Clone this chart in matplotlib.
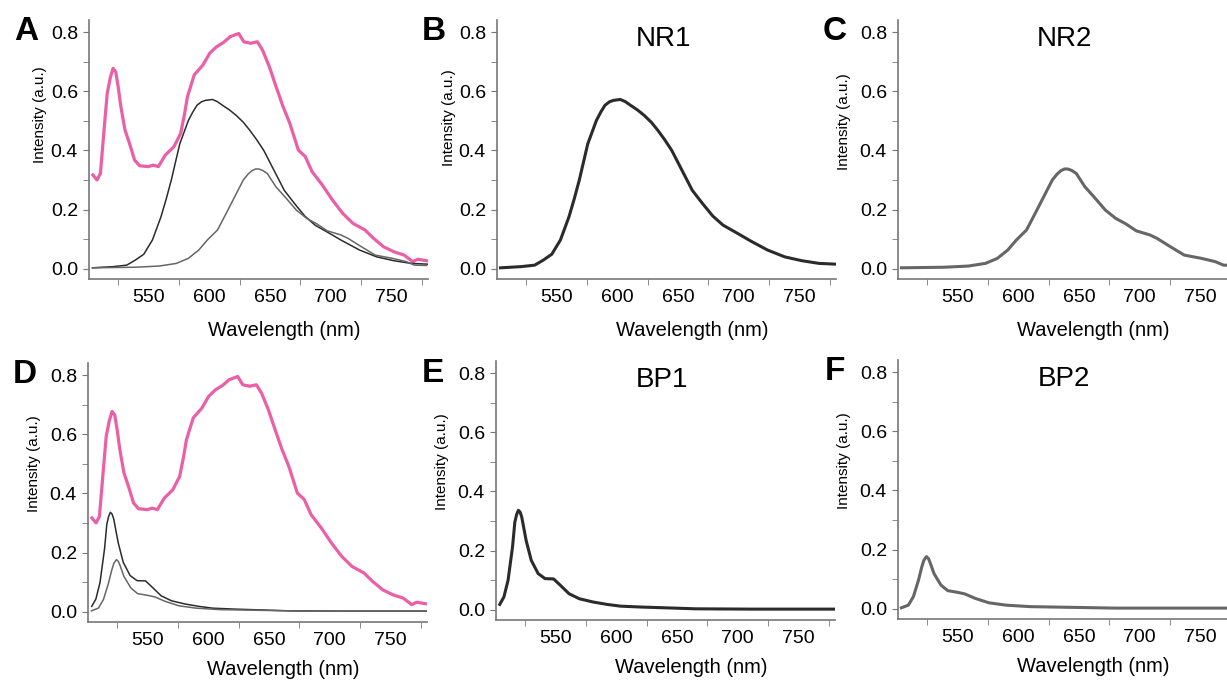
import numpy as np
import matplotlib
matplotlib.use("Agg")
import matplotlib.pyplot as plt

plt.rcParams['font.family'] = ['Liberation Sans', 'DejaVu Sans']

mix_wl = [504.2, 507.6, 510.4, 513.0, 516.0, 518.5, 520.8, 523.0, 525.0, 527.2,
          530.6, 534.3, 538.5, 542.7, 549.7, 553.9, 558.1, 563.8, 570.8, 576.4,
          579.5, 582.0, 587.6, 594.7, 600.3, 605.9, 611.5, 617.1, 624.2, 628.4,
          634.0, 639.6, 643.8, 649.4, 655.0, 660.7, 666.3, 673.3, 679.0, 684.6,
          693.0, 701.4, 709.8, 718.3, 728.1, 735.1, 743.5, 752.0, 760.4, 767.4,
          771.6, 778.7]
mix_int = [0.317, 0.300, 0.322, 0.450, 0.593, 0.645, 0.677, 0.665, 0.615, 0.548,
           0.469, 0.424, 0.367, 0.348, 0.345, 0.350, 0.345, 0.384, 0.412, 0.457,
           0.520, 0.581, 0.655, 0.688, 0.728, 0.750, 0.764, 0.784, 0.795, 0.767,
           0.762, 0.767, 0.739, 0.683, 0.615, 0.548, 0.491, 0.401, 0.379, 0.328,
           0.283, 0.232, 0.187, 0.153, 0.131, 0.103, 0.074, 0.057, 0.046, 0.024,
           0.032, 0.027]

# NR1
nr1_wl = [503.9, 520.8, 532.0, 539.1, 546.1, 553.2, 560.2, 564.5, 568.7, 575.7,
          582.8, 586.5, 589.8, 593.5, 596.9, 602.5, 606.5, 611.0, 616.5, 622.2,
          628.0, 633.5, 639.0, 644.8, 653.2, 661.7, 670.2, 678.6, 687.1, 698.3,
          709.6, 723.7, 737.8, 751.9, 766.0, 781.5]
nr1_int = [0.003, 0.007, 0.012, 0.029, 0.049, 0.097, 0.175, 0.235, 0.299, 0.422,
           0.501, 0.530, 0.552, 0.564, 0.569, 0.572, 0.565, 0.552, 0.537, 0.518,
           0.495, 0.467, 0.436, 0.400, 0.333, 0.265, 0.220, 0.178, 0.147, 0.121,
           0.094, 0.063, 0.040, 0.027, 0.018, 0.015]

# NR2
nr2_wl = [503.8, 539.1, 558.9, 573.0, 582.8, 591.3, 598.4, 606.8, 613.9, 620.9,
          628.0, 632.0, 635.0, 638.0, 640.7, 644.0, 647.7, 654.8, 663.3, 671.7,
          680.2, 688.7, 697.1, 708.4, 714.0, 725.3, 736.6, 750.7, 762.0, 769.0,
          778.9]
nr2_int = [0.003, 0.005, 0.009, 0.018, 0.035, 0.063, 0.097, 0.131, 0.187, 0.243,
           0.300, 0.320, 0.331, 0.337, 0.337, 0.332, 0.322, 0.277, 0.238, 0.198,
           0.170, 0.151, 0.128, 0.114, 0.103, 0.074, 0.046, 0.035, 0.024, 0.012,
           0.011]

# BP1
bp1_wl = [504.1, 507.5, 510.9, 514.6, 516.5, 518.0, 519.4, 520.8, 522.2, 525.8,
          530.0, 535.7, 541.4, 548.4, 554.1, 561.1, 569.6, 580.9, 592.2, 603.4,
          620.4, 643.0, 665.5, 710.7, 782.6]
bp1_int = [0.018, 0.043, 0.099, 0.212, 0.296, 0.322, 0.336, 0.330, 0.313, 0.234,
           0.167, 0.122, 0.105, 0.104, 0.082, 0.054, 0.037, 0.026, 0.018, 0.012,
           0.009, 0.006, 0.003, 0.002, 0.002]

# BP2
bp2_wl = [503.8, 509.5, 513.7, 517.9, 520.5, 522.2, 524.4, 526.0, 527.3, 530.6,
          536.3, 541.9, 550.4, 556.0, 564.5, 575.8, 589.9, 609.6, 637.9, 680.2,
          779.0]
bp2_int = [0.003, 0.012, 0.041, 0.097, 0.140, 0.163, 0.176, 0.170, 0.157, 0.119,
           0.080, 0.061, 0.055, 0.050, 0.035, 0.020, 0.012, 0.007, 0.005, 0.002,
           0.002]

PINK = '#ec5fa6'
DARK = '#2b2b2b'
GREY = '#666666'
W, H = 1227, 682

fig = plt.figure(figsize=(W / 100, H / 100), dpi=100)


def make_ax(left, top, bottom, letter, title=None, ylab_y=0.61, ylab_x=-0.16,
            xlab_y=-0.2):
    ax = fig.add_axes([left / W, (H - bottom) / H, 339 / W, (bottom - top) / H])
    ax.set_xlim(501, 780)
    ax.set_ylim(-0.0348, 0.8406)
    for s in ['top', 'right']:
        ax.spines[s].set_visible(False)
    for s in ['left', 'bottom']:
        ax.spines[s].set_color('#777777')
        ax.spines[s].set_linewidth(1.2)
    ax.set_xticks([550, 600, 650, 700, 750])
    ax.set_xticks([525, 575, 625, 675, 725, 775], minor=True)
    ax.set_yticks([0.0, 0.2, 0.4, 0.6, 0.8])
    ax.set_yticks([0.1, 0.3, 0.5, 0.7], minor=True)
    ax.set_yticklabels(['0.0', '0.2', '0.4', '0.6', '0.8'])
    ax.tick_params(axis='x', which='major', length=0, pad=7, labelsize=14)
    ax.tick_params(axis='x', which='minor', length=4, color='#777777')
    ax.tick_params(axis='y', which='both', length=4, color='#777777',
                   pad=4, labelsize=14)
    ax.set_xlabel('Wavelength (nm)', fontsize=14.5, va='center')
    ax.xaxis.set_label_coords(0.575, xlab_y)
    ax.set_ylabel('Intensity (a.u.)', fontsize=11, va='center')
    ax.yaxis.set_label_coords(ylab_x, ylab_y)
    fig.text((left - 63) / W, 1 - (top + 12) / H, letter, fontsize=24,
             fontweight='bold', ha='center', va='center')
    if title:
        ax.text(0.49, 0.925, title, transform=ax.transAxes, fontsize=20,
                ha='center', va='center')
    return ax


axA = make_ax(89, 20, 279, 'A', ylab_y=0.633, ylab_x=-0.145)
axA.plot(mix_wl, mix_int, color=PINK, lw=2.3)
axA.plot(nr1_wl, nr1_int, color=DARK, lw=1.1)
axA.plot(nr2_wl, nr2_int, color=GREY, lw=1.1)

axB = make_ax(497, 20, 279, 'B', 'NR1', ylab_y=0.625, ylab_x=-0.142)
axB.plot(nr1_wl, nr1_int, color=DARK, lw=2.2)

axC = make_ax(898, 20, 279, 'C', 'NR2', ylab_y=0.606)
axC.plot(nr2_wl, nr2_int, color=GREY, lw=2.2)

axD = make_ax(88, 363, 622, 'D', xlab_y=-0.185)
axD.plot(mix_wl, mix_int, color=PINK, lw=2.3)
axD.plot(bp1_wl, bp1_int, color=DARK, lw=1.1)
axD.plot(bp2_wl, bp2_int, color=GREY, lw=1.1)

axE = make_ax(496, 361, 620, 'E', 'BP1', xlab_y=-0.185)
axE.plot(bp1_wl, bp1_int, color=DARK, lw=2.2)

axF = make_ax(898, 360, 619, 'F', 'BP2', xlab_y=-0.185)
axF.plot(bp2_wl, bp2_int, color=GREY, lw=2.2)

fig.savefig('out.png', dpi=100)
